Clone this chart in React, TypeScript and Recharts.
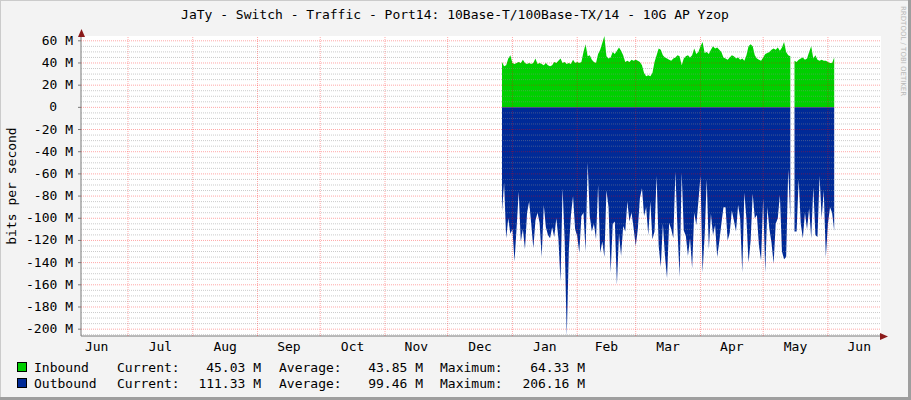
import { ComposedChart, Area, XAxis, YAxis, ReferenceLine, CartesianGrid } from "recharts";

const title = "JaTy - Switch - Traffic - Port14: 10Base-T/100Base-TX/14 - 10G AP Yzop";

// x is counted in days from 1 Jun of the first year
const monthNames = ["Jun", "Jul", "Aug", "Sep", "Oct", "Nov", "Dec", "Jan", "Feb", "Mar", "Apr", "May", "Jun"];
const monthStarts = [30, 61, 92, 122, 153, 183, 214, 245, 273, 304, 334, 365];
const monthMids = [15, 45.5, 76.5, 107, 137.5, 168, 198.5, 229.5, 259, 288.5, 319, 349.5, 380];
const firstDay = 209;

// Mbit/s, one value per day (null = no data)
const inbound = [
  41, 37, 38, 44, 47, 40, 39, 40, 41, 40,
  43, 40, 39, 40, 39, 40, 44, 39, 40, 39,
  38, 40, 38, 37, 38, 41, 40, 42, 44, 40,
  41, 39, 40, 39, 43, 40, 41, 40, 41, 50,
  57, 46, 47, 43, 41, 40, 48, 52, 58, 64.33,
  46, 44, 45, 50, 48, 51, 54, 51, 47, 41,
  42, 41, 43, 42, 43, 42, 41, 38, 31, 28,
  29, 28, 31, 41, 47, 53, 52, 47, 45, 44,
  43, 42, 44, 45, 47, 46, 38, 44, 46, 47,
  45, 47, 53, 48, 50, 55, 59, 49, 50, 48,
  52, 55, 53, 54, 52, 50, 45, 44, 43, 45,
  47, 46, 44, 45, 43, 44, 42, 47, 55, 57,
  55, 47, 44, 43, 42, 45, 48, 49, 50, 52,
  53, 52, 54, 51, 54, 59, 50, 47, 46, null,
  42, 41, 43, 44, 45, 43, 44, 50, 55, 44,
  47, 43, 42, 43, 42, 42, 41, 40, 40, 45.03,
];

// drawn below zero
const outbound = [
  94, 68, 118, 100, 114, 110, 139, 108, 76, 121,
  110, 128, 95, 85, 105, 127, 102, 95, 104, 135,
  88, 108, 115, 118, 108, 117, 100, 118, 157, 73,
  120, 206.16, 128, 97, 80, 110, 116, 131, 98, 95,
  130, 50, 98, 112, 105, 119, 70, 131, 121, 135,
  75, 90, 149, 105, 103, 160, 114, 134, 107, 112,
  85, 103, 95, 109, 125, 110, 82, 73, 98, 90,
  115, 85, 119, 112, 62, 125, 144, 105, 134, 154,
  104, 110, 118, 58, 110, 153, 59, 111, 116, 134,
  118, 145, 95, 106, 85, 62, 149, 115, 65, 128,
  96, 115, 106, 135, 121, 105, 90, 90, 120, 113,
  93, 102, 112, 88, 100, 149, 77, 101, 140, 120,
  78, 100, 97, 125, 138, 82, 149, 90, 110, 122,
  141, 105, 100, 79, 130, 137, 135, 56, 100, null,
  112, 112, 65, 105, 118, 95, 110, 91, 118, 72,
  115, 117, 62, 100, 75, 135, 105, 90, 95, 111.33,
];

const yTicks = [60, 40, 20, 0, -20, -40, -60, -80, -100, -120, -140, -160, -180, -200];
const legendRows = [
  { name: "Inbound", color: "#00CF00", current: "45.03", average: "43.85", maximum: "64.33" },
  { name: "Outbound", color: "#002A97", current: "111.33", average: "99.46", maximum: "206.16" },
];

const data = inbound.map((v, i) => ({
  day: firstDay + i,
  inbound: v,
  outbound: outbound[i] == null ? null : -(outbound[i] as number),
}));

const minorTicks: number[] = [];
for (let v = -205; v <= 60; v += 5) if (v % 20 !== 0) minorTicks.push(v);

const mono = "DejaVu Sans Mono";

const YTick = (props: any) => {
  const { x, y, payload } = props;
  const v = payload.value;
  return (
    <text x={v === 0 ? x - 16 : x} y={y} dy={4} textAnchor="end" fontFamily={mono} fontSize={13} fill="#000">
      {v === 0 ? "0" : `${v} M`}
    </text>
  );
};

export default function App() {
  return (
    <div style={{ position: "absolute", left: 0, top: 0, width: 911, height: 400, background: "#F3F3F3" }}>
      <ComposedChart width={911} height={400} data={data} margin={{ top: 36, right: 30, bottom: 44, left: 10 }}>
        <CartesianGrid horizontal={false} vertical={false} fill="#FFFFFF" />
        <XAxis
          dataKey="day"
          type="number"
          domain={[7.5, 390.4]}
          allowDataOverflow
          ticks={monthMids}
          interval={0}
          tickFormatter={(v: number) => monthNames[monthMids.indexOf(v)]}
          tickLine={false}
          tickSize={0}
          tickMargin={6}
          height={20}
          axisLine={{ stroke: "#7A7A7A" }}
          tick={{ fill: "#000", fontFamily: mono, fontSize: 13 }}
        />
        <YAxis
          type="number"
          domain={[-206.16, 64.33]}
          allowDataOverflow
          ticks={yTicks}
          interval={0}
          width={71}
          tickSize={3}
          tickMargin={5}
          tickLine={{ stroke: "#7A7A7A" }}
          axisLine={{ stroke: "#7A7A7A" }}
          tick={<YTick />}
        />
        <Area
          dataKey="inbound"
          type="linear"
          baseValue={0}
          fill="#00CF00"
          fillOpacity={1}
          stroke="none"
          isAnimationActive={false}
        />
        <Area
          dataKey="outbound"
          type="linear"
          baseValue={0}
          fill="#002A97"
          fillOpacity={1}
          stroke="none"
          isAnimationActive={false}
        />
        {minorTicks.map((v) => (
          <ReferenceLine
            key={"m" + v}
            y={v}
            stroke="#8C8C8C"
            strokeOpacity={0.45}
            strokeDasharray="1 1"
            zIndex={600}
          />
        ))}
        {yTicks.map((v) => (
          <ReferenceLine
            key={"y" + v}
            y={v}
            stroke="#FF0000"
            strokeOpacity={0.35}
            strokeDasharray="1 1"
            zIndex={600}
          />
        ))}
        {monthStarts.map((d) => (
          <ReferenceLine
            key={"x" + d}
            x={d}
            stroke="#FF0000"
            strokeOpacity={0.35}
            strokeDasharray="1 1"
            zIndex={600}
          />
        ))}
      </ComposedChart>

      <svg
        width={911}
        height={400}
        style={{ position: "absolute", left: 0, top: 0, pointerEvents: "none" }}
      >
        <text x={455} y={19} textAnchor="middle" fontFamily={mono} fontSize={13} fill="#000">
          {title}
        </text>
        <text
          x={0}
          y={0}
          transform="translate(16,186) rotate(-90)"
          textAnchor="middle"
          fontFamily={mono}
          fontSize={13}
          fill="#000"
        >
          bits per second
        </text>
        <text
          x={0}
          y={0}
          transform="translate(901,6) rotate(90)"
          fontFamily="DejaVu Sans"
          fontSize={7}
          fill="#B8B8B8"
        >
          RRDTOOL / TOBI OETIKER
        </text>
        {/* axis extensions and arrows */}
        <line x1={881} y1={336.5} x2={886} y2={336.5} stroke="#7A7A7A" />
        <line x1={81.5} y1={36} x2={81.5} y2={31} stroke="#7A7A7A" />
        <polygon points="78,37 85,37 81.5,29" fill="#8B1A1A" />
        <polygon points="880,333 880,340 888,336.5" fill="#8B1A1A" />
        {legendRows.map((r, i) => {
          const y = 372 + i * 16;
          return (
            <g key={r.name} fontFamily={mono} fontSize={13} fill="#000">
              <rect x={17.5} y={y - 9.5} width={9} height={9} fill={r.color} stroke="#000" />
              <text x={34} y={y}>{r.name}</text>
              <text x={117} y={y}>Current:</text>
              <text x={261} y={y} textAnchor="end">{r.current + " M"}</text>
              <text x={279} y={y}>Average:</text>
              <text x={423} y={y} textAnchor="end">{r.average + " M"}</text>
              <text x={440} y={y}>Maximum:</text>
              <text x={585} y={y} textAnchor="end">{r.maximum + " M"}</text>
            </g>
          );
        })}
        {/* frame */}
        <line x1={0} y1={0.5} x2={911} y2={0.5} stroke="#CBCBCB" />
        <line x1={0.5} y1={0} x2={0.5} y2={400} stroke="#CBCBCB" />
        <line x1={0} y1={398.5} x2={911} y2={398.5} stroke="#9E9E9E" strokeWidth={3} />
        <line x1={909.5} y1={0} x2={909.5} y2={400} stroke="#9E9E9E" strokeWidth={3} />
      </svg>
    </div>
  );
}
